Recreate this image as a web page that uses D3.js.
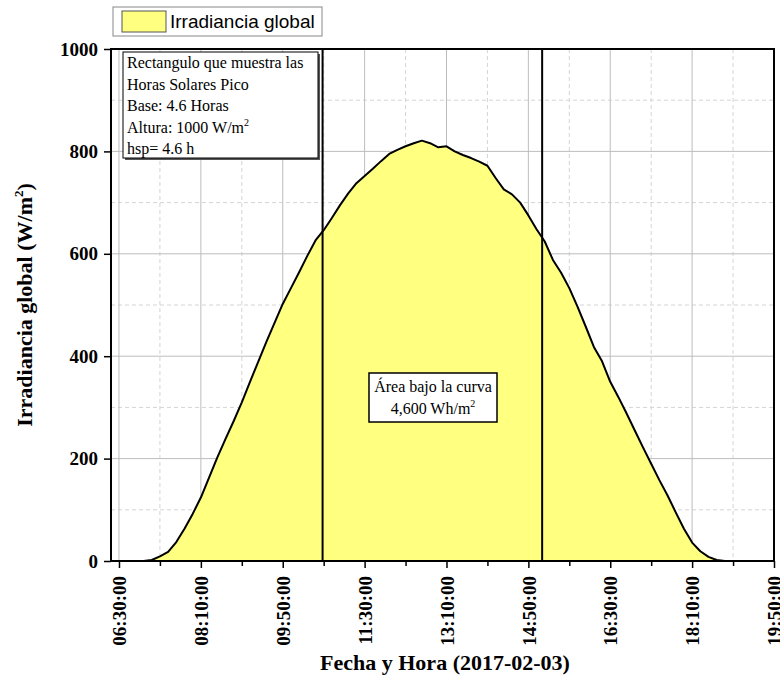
<!DOCTYPE html>
<html><head><meta charset="utf-8">
<script src="https://cdn.jsdelivr.net/npm/d3@7"></script>
<style>body{margin:0;background:#fff}svg{display:block}</style>
</head><body><svg id="c" width="780" height="678"></svg>
<script>
const times = ["06:30","06:40","06:50","07:00","07:10","07:20","07:30","07:40","07:50","08:00",
"08:10","08:20","08:30","08:40","08:50","09:00","09:10","09:20","09:30","09:40",
"09:50","10:00","10:10","10:20","10:30","10:40","10:50","11:00","11:10","11:20",
"11:30","11:40","11:50","12:00","12:10","12:20","12:30","12:40","12:50","13:00",
"13:10","13:20","13:30","13:40","13:50","14:00","14:10","14:20","14:30","14:40",
"14:50","15:00","15:10","15:20","15:30","15:40","15:50","16:00","16:10","16:20",
"16:30","16:40","16:50","17:00","17:10","17:20","17:30","17:40","17:50","18:00",
"18:10","18:20","18:30","18:40","18:50","19:00","19:10","19:20","19:30","19:40","19:50"];
const irradiance = [0,0,0,0,2,9,18,37,63,92,
124,163,202,238,273,310,350,389,428,465,
502,533,564,596,626,646,670,695,718,738,
752,766,781,795,803,810,816,821,816,808,
810,800,793,787,780,772,748,726,716,700,
675,648,624,588,563,533,497,458,418,390,
350,320,288,255,222,190,158,128,95,63,
36,19,8,2,0,0,0,0,0,0,0];
const xTickLabels = ["06:30:00","08:10:00","09:50:00","11:30:00","13:10:00","14:50:00","16:30:00","18:10:00","19:50:00"];
const yTicks = [0,200,400,600,800,1000];
const yMinor = [100,300,500,700,900];
const hspLines = ["10:38:40","15:06:50"];
const xDomain = ["06:20:15","19:50:00"];

const parse = d3.timeParse("%H:%M:%S");
const pt = s => parse(s.length===5 ? s+":00" : s);
const data = times.map((t,i)=>({t:pt(t), v:irradiance[i]}));

const svg = d3.select("#c");
const L=111, R=774, T=49, B=561;
const x = d3.scaleTime().domain(xDomain.map(pt)).range([L,R]);
const y = d3.scaleLinear().domain([0,1000]).range([B,T]);
const serif = "'Liberation Serif','Times New Roman',serif";

const majorX = xTickLabels.map(pt);
const minorX = majorX.slice(0,-1).map(d=>new Date(d.getTime()+50*60000));

// grid
const g = svg.append("g");
g.selectAll(".mx").data(minorX).join("line").attr("x1",d=>x(d)).attr("x2",d=>x(d)).attr("y1",T).attr("y2",B)
 .attr("stroke","#d4d4d4").attr("stroke-dasharray","4,3");
g.selectAll(".my").data(yMinor).join("line").attr("x1",L).attr("x2",R).attr("y1",d=>y(d)).attr("y2",d=>y(d))
 .attr("stroke","#d4d4d4").attr("stroke-dasharray","4,3");
g.selectAll(".Mx").data(majorX).join("line").attr("x1",d=>x(d)).attr("x2",d=>x(d)).attr("y1",T).attr("y2",B)
 .attr("stroke","#bdbdbd");
g.selectAll(".My").data(yTicks).join("line").attr("x1",L).attr("x2",R).attr("y1",d=>y(d)).attr("y2",d=>y(d))
 .attr("stroke","#bdbdbd");

// area
svg.append("path").datum(data).attr("fill","#ffff80")
  .attr("d", d3.area().x(d=>x(d.t)).y0(y(0)).y1(d=>y(d.v)));
svg.append("path").datum(data).attr("fill","none").attr("stroke","#000").attr("stroke-width",2)
  .attr("stroke-linejoin","round")
  .attr("d", d3.line().x(d=>x(d.t)).y(d=>y(d.v)));

// hsp vertical lines
svg.selectAll(".hsp").data(hspLines.map(pt)).join("line")
 .attr("x1",d=>x(d)).attr("x2",d=>x(d)).attr("y1",T).attr("y2",B)
 .attr("stroke","#000").attr("stroke-width",2);

// axes
const xAxis = svg.append("g").attr("transform",`translate(0,${B})`)
 .call(d3.axisBottom(x).tickValues(majorX).tickSize(7).tickFormat((d,i)=>xTickLabels[i]));
xAxis.select(".domain").remove();
xAxis.selectAll("line").attr("stroke-width",1.5);
xAxis.selectAll("text").attr("font-family",serif).attr("font-weight","bold").attr("font-size",19)
 .attr("fill","#000").attr("transform","rotate(-90)").attr("text-anchor","end")
 .attr("x",-15).attr("y",0).attr("dy","0.35em");
const xMin = svg.append("g").attr("transform",`translate(0,${B})`)
 .call(d3.axisBottom(x).tickValues(minorX).tickSize(5).tickFormat(""));
xMin.select(".domain").remove();
xMin.selectAll("line").attr("stroke-width",1.5);

const yAxis = svg.append("g").attr("transform",`translate(${L},0)`)
 .call(d3.axisLeft(y).tickValues(yTicks).tickSize(7).tickPadding(6).tickFormat(d3.format("d")));
yAxis.select(".domain").remove();
yAxis.selectAll("line").attr("stroke-width",1.5);
yAxis.selectAll("text").attr("font-family",serif).attr("font-weight","bold").attr("font-size",19).attr("fill","#000");

svg.append("rect").attr("x",L).attr("y",T).attr("width",R-L).attr("height",B-T)
 .attr("fill","none").attr("stroke","#000").attr("stroke-width",2);

// annotation box top-left
svg.append("rect").attr("x",125).attr("y",54).attr("width",195).attr("height",106).attr("fill","#555");
svg.append("rect").attr("x",123).attr("y",52).attr("width",195).attr("height",106)
 .attr("fill","#fff").attr("stroke","#000").attr("stroke-width",1);
const annLines = ["Rectangulo que muestra las","Horas Solares Pico","Base: 4.6 Horas","Altura: 1000 W/m","hsp= 4.6 h"];
annLines.forEach((s,i)=>{
  const t = svg.append("text").attr("font-family",serif).attr("font-size",16).attr("fill","#000")
    .attr("x",127).attr("y",68+i*21.5);
  t.append("tspan").text(s);
  if (i===3) t.append("tspan").attr("font-size",10).attr("dy",-7).text("2");
});

// center box
svg.append("rect").attr("x",369).attr("y",373).attr("width",128).attr("height",49)
 .attr("fill","#fff").attr("stroke","#000").attr("stroke-width",1.5);
svg.append("text").attr("font-family",serif).attr("font-size",16).attr("text-anchor","middle")
 .attr("x",433).attr("y",392).text("Área bajo la curva");
const c2 = svg.append("text").attr("font-family",serif).attr("font-size",16).attr("text-anchor","middle")
 .attr("x",433).attr("y",414);
c2.append("tspan").text("4,600 Wh/m");
c2.append("tspan").attr("font-size",10).attr("dy",-7).text("2");

// legend
svg.append("rect").attr("x",113).attr("y",7).attr("width",209).attr("height",29)
 .attr("fill","#fff").attr("stroke","#888").attr("stroke-width",1);
svg.append("rect").attr("x",122).attr("y",11).attr("width",44).attr("height",21)
 .attr("fill","#ffff80").attr("stroke","#555").attr("stroke-width",1);
svg.append("text").attr("font-family","'Liberation Sans',Arial,sans-serif").attr("font-size",19)
 .attr("x",170).attr("y",28).text("Irradiancia global");

// axis titles
svg.append("text").attr("font-family",serif).attr("font-weight","bold").attr("font-size",22)
 .attr("text-anchor","middle").attr("x",445).attr("y",670).text("Fecha y Hora (2017-02-03)");
const yt = svg.append("text").attr("font-family",serif).attr("font-weight","bold").attr("font-size",22)
 .attr("text-anchor","middle").attr("transform","translate(32,305) rotate(-90)");
yt.append("tspan").text("Irradiancia global (W/m");
yt.append("tspan").attr("font-size",13).attr("dy",-9).text("2");
yt.append("tspan").attr("dy",9).text(")");
</script></body></html>
